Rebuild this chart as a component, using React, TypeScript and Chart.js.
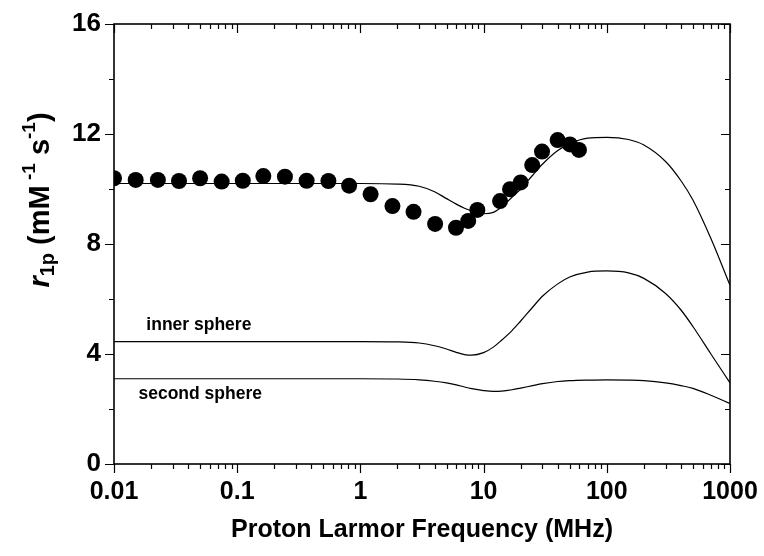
import React, { useEffect, useRef } from "react";
import { Chart, registerables } from "chart.js";

Chart.register(...registerables);

// Measured relaxivity (MHz, mM^-1 s^-1)
const measFreq = [0.01, 0.015, 0.0227, 0.0337, 0.05, 0.0748, 0.111, 0.163, 0.244, 0.366, 0.55, 0.81, 1.21, 1.82, 2.7, 4.04, 5.97, 7.5, 8.9, 13.6, 16.4, 20, 24.8, 29.8, 39.9, 50.2, 59.4];
const measValue = [10.39, 10.33, 10.33, 10.29, 10.39, 10.27, 10.3, 10.47, 10.45, 10.3, 10.29, 10.12, 9.81, 9.38, 9.17, 8.73, 8.59, 8.84, 9.24, 9.56, 9.99, 10.24, 10.87, 11.36, 11.78, 11.62, 11.42];

// Fitted curves
const curveFreq = [0.01, 0.1, 1, 2, 3, 4, 5, 6, 7, 8, 10, 12, 14, 17, 20, 25, 30, 40, 50, 70, 100, 150, 200, 300, 400, 500, 700, 1000];
const totalFit = [10.2, 10.2, 10.2, 10.18, 10.1, 9.9, 9.65, 9.45, 9.3, 9.2, 9.1, 9.15, 9.35, 9.7, 10.0, 10.5, 10.9, 11.4, 11.65, 11.85, 11.88, 11.8, 11.6, 11.0, 10.3, 9.6, 8.2, 6.5];
const innerFit = [4.45, 4.45, 4.45, 4.44, 4.4, 4.3, 4.18, 4.06, 3.98, 3.96, 4.05, 4.25, 4.5, 4.85, 5.2, 5.7, 6.1, 6.55, 6.8, 6.98, 7.02, 6.95, 6.75, 6.2, 5.6, 5.0, 4.0, 2.95];
const secondFit = [3.1, 3.1, 3.1, 3.09, 3.06, 3.01, 2.95, 2.88, 2.8, 2.74, 2.67, 2.64, 2.65, 2.7, 2.76, 2.85, 2.92, 3.0, 3.03, 3.05, 3.06, 3.05, 3.03, 2.95, 2.85, 2.75, 2.5, 2.2];

const xTicks = [0.01, 0.1, 1, 10, 100, 1000];
const xTickLabels = ["0.01", "0.1", "1", "10", "100", "1000"];
const yTicks = [0, 4, 8, 12, 16];
const curveLabels = [
  { text: "inner sphere", x: 0.0183, y: 5.05 },
  { text: "second sphere", x: 0.0158, y: 2.55 },
];

const FONT = "'Liberation Sans', Arial, sans-serif";

const framePlugin = {
  id: "frame",
  afterDraw(chart: any) {
    const { ctx, chartArea: a, scales } = chart;
    const xs = scales.x;
    const ys = scales.y;
    ctx.save();
    ctx.strokeStyle = "#000";
    ctx.lineWidth = 1.6;
    ctx.strokeRect(a.left, a.top, a.right - a.left, a.bottom - a.top);
    ctx.lineWidth = 1.2;
    ctx.beginPath();
    // x ticks (bottom outward, top inward)
    for (let e = -2; e <= 3; e++) {
      for (let m = 1; m <= 9; m++) {
        const v = m * Math.pow(10, e);
        if (v > 1000) break;
        const px = Math.round(xs.getPixelForValue(v)) + 0.5;
        const len = m === 1 ? 9 : 5;
        ctx.moveTo(px, a.bottom);
        ctx.lineTo(px, a.bottom + len);
        ctx.moveTo(px, a.top);
        ctx.lineTo(px, a.top + len);
      }
    }
    // y ticks (left outward, right inward)
    for (let v = 0; v <= 16; v += 2) {
      const py = Math.round(ys.getPixelForValue(v)) + 0.5;
      const len = v % 4 === 0 ? 9 : 5;
      ctx.moveTo(a.left, py);
      ctx.lineTo(a.left - len, py);
      ctx.moveTo(a.right, py);
      ctx.lineTo(a.right - len, py);
    }
    ctx.stroke();

    // curve labels
    ctx.fillStyle = "#000";
    ctx.font = `bold 17.5px ${FONT}`;
    ctx.textBaseline = "middle";
    ctx.textAlign = "left";
    for (const l of curveLabels) {
      ctx.fillText(l.text, xs.getPixelForValue(l.x), ys.getPixelForValue(l.y));
    }

    // x title
    ctx.font = `bold 25px ${FONT}`;
    ctx.textAlign = "center";
    ctx.textBaseline = "middle";
    ctx.fillText("Proton Larmor Frequency (MHz)", (a.left + a.right) / 2, 530);

    // y title (rotated, with sub/superscripts)
    const cy = 200;
    ctx.translate(41, cy);
    ctx.rotate(-Math.PI / 2);
    const parts = [
      { t: "r", f: `italic bold 29px ${FONT}`, dy: 0 },
      { t: "1p", f: `bold 20px ${FONT}`, dy: 7 },
      { t: " (mM", f: `bold 29px ${FONT}`, dy: 0 },
      { t: " -1", f: `bold 19px ${FONT}`, dy: -11 },
      { t: " s", f: `bold 29px ${FONT}`, dy: 0 },
      { t: "-1", f: `bold 19px ${FONT}`, dy: -11 },
      { t: ")", f: `bold 29px ${FONT}`, dy: 0 },
    ];
    let total = 0;
    for (const p of parts) {
      ctx.font = p.f;
      total += ctx.measureText(p.t).width;
    }
    let x = -total / 2;
    ctx.textAlign = "left";
    ctx.textBaseline = "middle";
    for (const p of parts) {
      ctx.font = p.f;
      ctx.fillText(p.t, x, p.dy);
      x += ctx.measureText(p.t).width;
    }
    ctx.restore();
  },
};

export default function App() {
  const ref = useRef<HTMLCanvasElement>(null);
  useEffect(() => {
    document.body.style.margin = "0";
    const toPts = (xs: number[], ys: number[]) => xs.map((x, i) => ({ x, y: ys[i] }));
    const lineDs = (label: string, ys: number[]) => ({
      label,
      data: toPts(curveFreq, ys),
      showLine: true,
      borderColor: "#000",
      borderWidth: 1.2,
      pointRadius: 0,
      cubicInterpolationMode: "monotone" as const,
      fill: false,
    });
    const chart = new Chart(ref.current!, {
      type: "scatter",
      data: {
        datasets: [
          {
            label: "measured",
            data: toPts(measFreq, measValue),
            pointRadius: 8,
            pointBackgroundColor: "#000",
            pointBorderColor: "#000",
            pointBorderWidth: 0,
            showLine: false,
          },
          lineDs("total", totalFit),
          lineDs("inner sphere", innerFit),
          lineDs("second sphere", secondFit),
        ],
      },
      options: {
        responsive: false,
        animation: false,
        layout: { padding: { top: 24, right: 34, left: 0, bottom: 0 } },
        plugins: { legend: { display: false }, tooltip: { enabled: false } },
        scales: {
          x: {
            type: "logarithmic",
            min: 0.01,
            max: 1000,
            afterBuildTicks: (s: any) => {
              s.ticks = xTicks.map((v) => ({ value: v }));
            },
            afterFit: (s: any) => {
              s.height = 92;
              s.paddingLeft = 0;
              s.paddingRight = 0;
            },
            grid: { display: false, drawTicks: false },
            border: { display: false },
            ticks: {
              padding: 13,
              color: "#000",
              font: { family: FONT, size: 25, weight: "bold" },
              maxRotation: 0,
              autoSkip: false,
              callback: (v: any) => {
                const i = xTicks.indexOf(Number(v));
                return i >= 0 ? xTickLabels[i] : "";
              },
            },
          },
          y: {
            min: 0,
            max: 16,
            afterBuildTicks: (s: any) => {
              s.ticks = yTicks.map((v) => ({ value: v }));
            },
            afterFit: (s: any) => {
              s.width = 114;
              s.paddingTop = 0;
              s.paddingBottom = 0;
            },
            grid: { display: false, drawTicks: false },
            border: { display: false },
            ticks: {
              padding: 13,
              color: "#000",
              font: { family: FONT, size: 26, weight: "bold" },
            },
          },
        },
      },
      plugins: [framePlugin],
    });
    return () => chart.destroy();
  }, []);
  return <canvas ref={ref} width={764} height={556} style={{ display: "block" }} />;
}
